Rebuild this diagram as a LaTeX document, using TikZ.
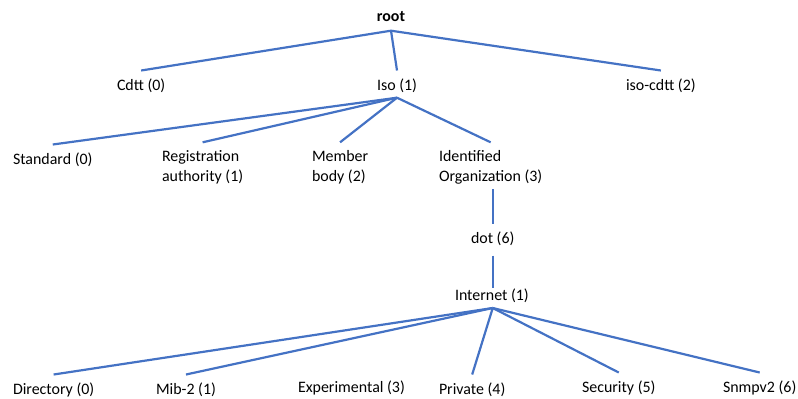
\documentclass[tikz,border=0pt]{standalone}
\usepackage{fontspec}
\setmainfont{Carlito}
\definecolor{linkblue}{HTML}{4472C4}
\begin{document}
\begin{tikzpicture}[x=1bp,y=-1bp,
  txt/.style={font=\fontsize{16}{19.2}\selectfont, inner xsep=0pt, inner ysep=8.5bp,
              outer sep=0pt, anchor=base west},
  lbl/.style={txt, text height=11bp, text depth=4bp},
  % two-line labels: the base anchor sits on the last line
  lbltwo/.style={txt, align=left, text height=30.2bp, text depth=4bp},
  link/.style={draw=linkblue, line width=2.2bp}]
\useasboundingbox (0,0) rectangle (798,398);

% level 0
\node[lbl, anchor=base, font=\fontsize{16}{19.2}\selectfont\bfseries] (root) at (391,21) {root};
\coordinate (rootJ) at ([yshift=-9.7bp]root.base);

% level 1
\node[lbl] (cdtt)    at (117,90) {Cdtt (0)};
\node[lbl] (iso)     at (377,90) {Iso (1)};
\node[lbl] (isocdtt) at (626,90) {iso-cdtt (2)};
\coordinate (isoJ) at ([yshift=-7.7bp]iso.base);

% level 2
\node[lbl]    (standard) at (13,164)  {Standard (0)};
\node[lbltwo] (regauth)  at (162,181) {Registration\\authority (1)};
\node[lbltwo] (member)   at (312,181) {Member\\body (2)};
\node[lbltwo] (identorg) at (439,181) {Identified\\Organization (3)};

% chain below Identified Organization
\node[lbl] (dot)  at (471,243) {dot (6)};
\node[lbl, inner ysep=1bp] (inet) at (455,300) {Internet (1)};
\coordinate (identB) at (dot.north |- 0,189);
\coordinate (inetT) at (dot.south |- inet.north);
\coordinate (inetJ) at ([yshift=-8bp]dot.base |- inet.base);

% level 5
\node[lbl] (directory)    at (13,394)  {Directory (0)};
\node[lbl] (mibtwo)       at (156,394) {Mib-2 (1)};
\node[lbl] (experimental) at (298,392) {Experimental (3)};
\node[lbl] (private)      at (439,394) {Private (4)};
\node[lbl] (security)     at (582,392) {Security (5)};
\node[lbl] (snmpvtwo)     at (723,392) {Snmpv2 (6)};

% connectors
\draw[link] (rootJ) -- (cdtt.north);
\draw[link] (rootJ) -- (iso.north);
\draw[link] (rootJ) -- (isocdtt.north);

\draw[link] (isoJ) -- (standard.north);
\draw[link] (isoJ) -- (regauth.north);
\draw[link] (isoJ) -- (member.north);
\draw[link] (isoJ) -- (identorg.north);

\draw[link] (identB) -- (dot.north);
\draw[link] (dot.south) -- (inetT);

\draw[link] (inetJ) -- (directory.north);
\draw[link] (inetJ) -- (mibtwo.north);
\draw[link] (inetJ) -- (private.north);
\draw[link] (inetJ) -- (security.north);
\draw[link] (inetJ) -- (snmpvtwo.north);
\end{tikzpicture}
\end{document}
